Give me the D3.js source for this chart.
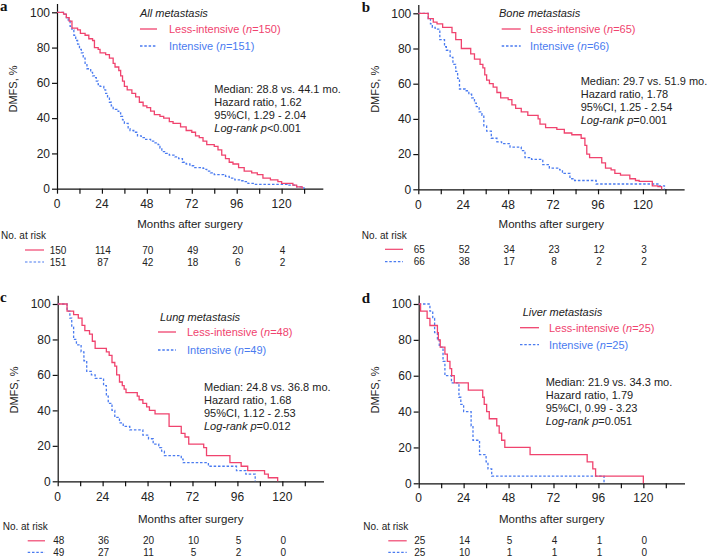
<!DOCTYPE html>
<html>
<head>
<meta charset="utf-8">
<script src="https://cdn.jsdelivr.net/npm/d3@7"></script>
<style>
  body { margin: 0; background: #fff; }
  svg { display: block; font-family: "Liberation Sans", Arial, sans-serif; }
</style>
</head>
<body>
<svg width="707" height="557"></svg>
<script>
// Data
const riskMonths = [0, 24, 48, 72, 96, 120];
const panelLetters = ["a", "b", "c", "d"];
const cohortNames = ["All metastasis", "Bone metastasis", "Lung metastasis", "Liver metastasis"];
const lessN = [150, 65, 48, 25];
const intN = [151, 66, 49, 25];
const lessRisk = [[150, 114, 70, 49, 20, 4], [65, 52, 34, 23, 12, 3], [48, 36, 20, 10, 5, 0], [25, 14, 5, 4, 1, 0]];
const intRisk = [[151, 87, 42, 18, 6, 2], [66, 38, 17, 8, 2, 2], [49, 27, 11, 5, 2, 0], [25, 10, 1, 1, 1, 0]];
const medians = ["28.8 vs. 44.1", "29.7 vs. 51.9", "24.8 vs. 36.8", "21.9 vs. 34.3"];
const hazards = ["1.62", "1.78", "1.68", "1.79"];
const cis = ["1.29 - 2.04", "1.25 - 2.54", "1.12 - 2.53", "0.99 - 3.23"];
const pvals = ["<0.001", "=0.001", "=0.012", "=0.051"];

// KM curves, [month, DMFS %]
const lessAll = [[0,100],[3.5,99],[5,97],[6.5,95],[8,91],[11,90],[12.5,88],[15,87],[17,85],[19,84],[20,80],[22,79],[23,77],[26,76],[28,74],[30,71],[31,69],[33,67],[34,64],[35,61],[36,58],[37.5,56],[40,54],[42,52],[44,49],[46,47],[48,46],[50,44],[52,42],[55,41],[57,40],[60,38],[62,37],[66,35],[69,33],[72,32],[74,30],[76,29],[78,27],[80,25],[84,24],[86,22],[88,19],[90,17],[92,15],[94,14],[97,12],[100,10],[104,9],[107,8],[110,6],[114,5],[118,4],[120,3],[126,2],[128,1],[131,0]];
const intAll = [[0,100],[4,99],[5,97],[6,95],[7,92],[8,90],[9,87],[10,84],[11,82],[12,79],[13,77],[14,74],[15,71],[16,68],[18,66],[19,64],[20,63],[21,61],[22,59],[23,58],[25,56],[26,54],[27,52],[28,49],[29,47],[30,45],[32,44],[33,43],[34,41],[35,39],[36,37],[38,34],[39,33],[41,32],[43,30],[45,29],[47,28],[50,27],[52,26],[54,25],[55,23],[56,21],[58,20],[60,19],[63,18],[65,17],[67,15],[69,14],[71,13],[73,12],[78,11.5],[79,11],[80,10],[82,9],[84,8],[89,7.5],[90,7],[92,6],[95,5],[98,4.5],[100,4],[102,3],[106,2.5],[123,2],[128,1],[131,0.5],[132,0]];
const lessBone = [[0,100],[5.3,97],[8,95],[10,94],[13,92],[18,89],[20,85],[23,80],[28,77],[30,74],[33,71],[34.5,69],[35.5,65],[36.5,62],[38,60],[40,58],[42,55],[44,52],[48,51],[50,48],[52,46],[55,44],[58.5,42],[64,40],[65,37],[68,35],[74,34],[78,32],[82,31],[87,29],[89,25],[90,20],[91.5,18],[98,15],[100,12],[103,11],[105,9],[108,8],[113,6],[116,5],[118,4.5],[125,2],[128,1.5],[130,0]];
const intBone = [[0,100],[5.3,97],[6.5,94],[7.5,92],[9,91],[11.5,85],[14,81],[15,79],[17,75],[18.5,71],[20,67],[21,63],[22,57],[25,56],[27,54],[28.5,52],[30,49],[31,47],[32.5,44],[34,42],[35,36],[36.5,33],[39,29],[42,27],[44.5,26],[49,24],[55,22],[57,18],[60.5,17],[66.5,14],[70,12],[75.5,11],[77,9],[81,6],[83.5,5],[95,3],[128,2],[131.5,0]];
const lessLung = [[0,100],[5,96],[8.5,94],[11,92],[13,88],[14.5,85],[17,83],[18.5,79],[20,75],[26,73],[27.5,71],[29,67],[30.5,65],[31.5,60],[33,56],[34.5,54],[35.5,52],[36.5,50],[42.5,48],[43.5,46],[45.5,44],[47.5,42],[49,40],[52,38],[59.5,31],[66,27],[68,25],[70,21],[78,19],[79.5,14.5],[92,10.5],[98,8.5],[101.5,6],[110.5,4],[112.5,2],[117.5,0]];
const intLung = [[0,100],[5,96],[6.5,92],[7.5,87],[8.5,80],[10,77],[12.5,73],[14,68],[15.5,62],[18,60],[20,58],[24.5,54],[26,48],[27,44],[29,40],[30.5,36],[33,33],[35,31],[38.5,29],[45.5,26],[48.5,24],[51,21],[54,19],[55.5,17],[57,14.5],[66,12.5],[67,10.5],[80.5,8.5],[95.5,6],[100.5,4],[105.5,0]];
const lessLiver = [[0,100],[1,96],[4.5,92],[6,88],[10,84],[10.5,80],[11.5,76],[14,72],[15.3,68],[16.7,64],[17.6,60],[19,56],[26.5,52],[34.2,48],[35,44],[36.3,40],[37.7,36],[41.7,32],[43,28],[44.3,24],[46,20],[59.5,16],[90,12],[93,8],[94.5,4],[120,0]];
const intLiver = [[0,100],[6,96],[7.5,92],[8.5,84],[10,80],[11,76],[13,68],[14,60],[17.5,56],[21.5,48],[22.5,44],[24,40],[28,32],[29,24],[32.5,16],[36,12],[37,8],[39,4],[99,0]];

const lessCurves = [lessAll, lessBone, lessLung, lessLiver];
const intCurves = [intAll, intBone, intLung, intLiver];

// Colours
const red = "#f0436e";
const blue = "#4a7bf0";

// Layout of each panel (pixel positions)
const layout = [
  { x0: 57, yZero: 188.7, y100: 12.3, letter: [0, 11], ytitle: [13.3, 89], tickY: 208, monthY: 228, riskTitle: [1, 239.2], riskRows: [253.5, 265.5], riskLine: [25, 44],
    title: [140, 17], legLine: [140, 157], legText: 169, legY: [29, 46], stats: [214.3, 92.5] },
  { x0: 418.3, yZero: 189.3, y100: 13.3, letter: [361.7, 11.7], ytitle: [375, 89.3], tickY: 209, monthY: 228.3, riskTitle: [361.7, 238.5], riskRows: [252.8, 265.2], riskLine: [385, 403],
    title: [499, 16.7], legLine: [501.7, 520.7], legText: 530, legY: [29, 46], stats: [580.7, 84.5] },
  { x0: 57.7, yZero: 481.3, y100: 304, letter: [0, 302], ytitle: [14.2, 390], tickY: 500.7, monthY: 523, riskTitle: [2.7, 530.2], riskRows: [544.3, 555.8], riskLine: [27.7, 45],
    title: [160, 321], legLine: [158, 176], legText: 187, legY: [332, 350], stats: [204, 391] },
  { x0: 418.7, yZero: 483.3, y100: 304, letter: [361.7, 302.7], ytitle: [375.3, 390], tickY: 502.3, monthY: 523.3, riskTitle: [363.3, 530.2], riskRows: [544.3, 555.8], riskLine: [388.3, 406.7],
    title: [522.7, 316], legLine: [520, 539], legText: 549, legY: [327.7, 344.7], stats: [545.7, 386] }
];

const svg = d3.select("svg");
const pxPerMonth = 1.872;

layout.forEach((L, i) => {
  const g = svg.append("g");

  // Scales
  const x = d3.scaleLinear().domain([0, 142]).range([L.x0, L.x0 + 142 * pxPerMonth]);
  const pxPerPct = (L.yZero - L.y100) / 100;
  const y = d3.scaleLinear().domain([0, 105]).range([L.yZero, L.yZero - 105 * pxPerPct]);

  // X axis
  const xa = g.append("g")
    .attr("transform", `translate(0,${L.yZero})`)
    .call(d3.axisBottom(x).tickValues(d3.range(0, 133, 12)).tickSize(5).tickSizeOuter(0)
      .tickFormat(d => (d % 24 === 0 ? d : "")));
  xa.selectAll("text").remove();
  xa.selectAll("path, line").attr("stroke", "#111").attr("stroke-width", 1.2);

  g.selectAll(".xlab").data(riskMonths).join("text")
    .attr("x", d => x(d)).attr("y", L.tickY)
    .attr("text-anchor", "middle").attr("font-size", 12).attr("fill", "#222")
    .text(d => d);

  // Y axis
  const ya = g.append("g")
    .attr("transform", `translate(${L.x0},0)`)
    .call(d3.axisLeft(y).tickValues([0, 20, 40, 60, 80, 100]).tickSize(5).tickSizeOuter(0).tickPadding(2));
  ya.selectAll("path, line").attr("stroke", "#111").attr("stroke-width", 1.2);
  ya.selectAll("text").attr("font-size", 12).attr("font-family", "Liberation Sans, Arial, sans-serif").attr("fill", "#222");

  // Axis titles
  g.append("text")
    .attr("transform", `translate(${L.ytitle[0] + 4},${L.ytitle[1]}) rotate(-90)`)
    .attr("text-anchor", "middle").attr("font-size", 11).attr("fill", "#222")
    .text("DMFS, %");
  g.append("text")
    .attr("x", L.x0 + 133).attr("y", L.monthY)
    .attr("text-anchor", "middle").attr("font-size", 11.5).attr("fill", "#222")
    .text("Months after surgery");

  // Panel letter
  g.append("text")
    .attr("x", L.letter[0]).attr("y", L.letter[1])
    .attr("font-family", "Liberation Serif, Times New Roman, serif")
    .attr("font-weight", "bold").attr("font-size", 15).attr("fill", "#111")
    .text(panelLetters[i]);

  // KM curves
  const line = d3.line().curve(d3.curveStepAfter).x(d => x(d[0])).y(d => y(d[1]));
  g.append("path").datum(intCurves[i])
    .attr("fill", "none").attr("stroke", blue).attr("stroke-width", 1.3)
    .attr("stroke-dasharray", "2.5,1.8").attr("d", line);
  g.append("path").datum(lessCurves[i])
    .attr("fill", "none").attr("stroke", red).attr("stroke-width", 1.3).attr("d", line);

  // Legend
  g.append("text")
    .attr("x", L.title[0]).attr("y", L.title[1])
    .attr("font-size", 11).attr("font-style", "italic").attr("fill", "#222")
    .text(cohortNames[i]);
  const legItems = [
    { label: "Less-intensive", n: lessN[i], color: red, dash: null },
    { label: "Intensive", n: intN[i], color: blue, dash: "2.5,1.8" }
  ];
  legItems.forEach((it, k) => {
    g.append("line")
      .attr("x1", L.legLine[0]).attr("x2", L.legLine[1])
      .attr("y1", L.legY[k]).attr("y2", L.legY[k])
      .attr("stroke", it.color).attr("stroke-width", 1.3)
      .attr("stroke-dasharray", it.dash);
    const t = g.append("text")
      .attr("x", L.legText).attr("y", L.legY[k] + 4)
      .attr("font-size", 11).attr("fill", it.color);
    t.append("tspan").text(`${it.label} (`);
    t.append("tspan").attr("font-style", "italic").text("n");
    t.append("tspan").text(`=${it.n})`);
  });

  // Statistics
  const stats = [
    `Median: ${medians[i]} mo.`,
    `Hazard ratio, ${hazards[i]}`,
    `95%CI, ${cis[i]}`
  ];
  stats.forEach((s, k) => {
    g.append("text")
      .attr("x", L.stats[0]).attr("y", L.stats[1] + k * 13)
      .attr("font-size", 11).attr("fill", "#222").text(s);
  });
  const pt = g.append("text")
    .attr("x", L.stats[0]).attr("y", L.stats[1] + 3 * 13)
    .attr("font-size", 11).attr("fill", "#222");
  pt.append("tspan").attr("font-style", "italic").text("Log-rank p");
  pt.append("tspan").text(pvals[i]);

  // Numbers at risk
  g.append("text")
    .attr("x", L.riskTitle[0]).attr("y", L.riskTitle[1])
    .attr("font-size", 10).attr("fill", "#222").text("No. at risk");
  [lessRisk[i], intRisk[i]].forEach((row, k) => {
    const ry = L.riskRows[k];
    g.append("line")
      .attr("x1", L.riskLine[0]).attr("x2", L.riskLine[1])
      .attr("y1", ry - 3.5).attr("y2", ry - 3.5)
      .attr("stroke", k === 0 ? red : blue).attr("stroke-width", 1.2)
      .attr("stroke-dasharray", k === 0 ? null : "2.5,1.8");
    g.selectAll(null).data(row).join("text")
      .attr("x", (d, j) => x(riskMonths[j]) + 1).attr("y", ry)
      .attr("text-anchor", "middle").attr("font-size", 10).attr("fill", "#222")
      .text(d => d);
  });
});
</script>
</body>
</html>
